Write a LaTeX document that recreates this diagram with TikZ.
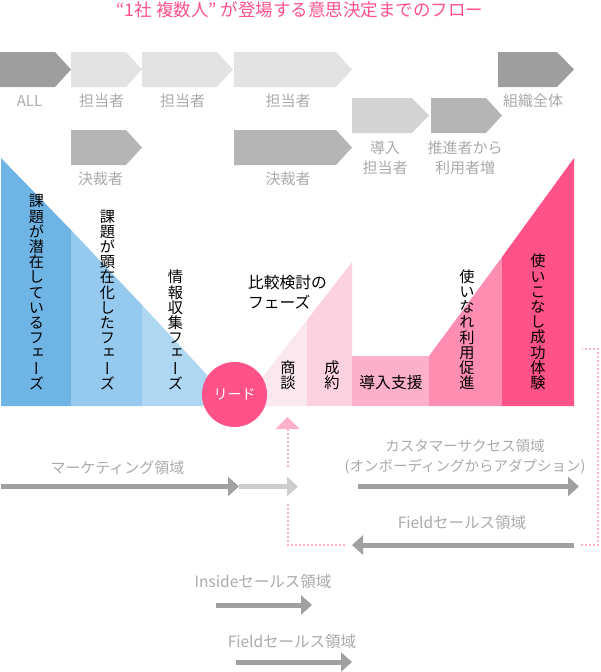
\documentclass[tikz,border=0pt]{standalone}
\usepackage{fontspec}
\setmainfont{Noto Sans CJK JP}
\newfontfamily\vertfont[RawFeature=+vert]{Noto Sans CJK JP}
\usetikzlibrary{arrows.meta, positioning, calc}
\definecolor{titlepink}{RGB}{255,82,136}
\definecolor{labelgray}{RGB}{170,170,170}
\definecolor{arrowgray}{RGB}{160,160,160}
\definecolor{arrowlight}{RGB}{205,205,205}
\definecolor{chevdark}{RGB}{158,158,158}
\definecolor{chevmid}{RGB}{181,181,181}
\definecolor{chevsoft}{RGB}{211,211,211}
\definecolor{chevpale}{RGB}{227,227,227}
\definecolor{blueone}{RGB}{110,181,230}
\definecolor{bluetwo}{RGB}{150,201,238}
\definecolor{bluethree}{RGB}{175,215,242}
\definecolor{pinkone}{RGB}{251,232,239}
\definecolor{pinktwo}{RGB}{253,210,224}
\definecolor{pinkthree}{RGB}{253,176,202}
\definecolor{pinkfour}{RGB}{254,141,178}
\definecolor{pinkfive}{RGB}{255,82,136}
\newcommand{\stackfont}{\vertfont\fontsize{15.2}{15.2}\selectfont\lineskiplimit=-100pt\relax}

\begin{document}
\begin{tikzpicture}[
        x=1pt, y=-1pt,
        graylabel/.style={text=labelgray, font=\fontsize{15}{20}\selectfont, align=center, inner sep=0pt},
        blacklabel/.style={text=black, font=\fontsize{15.8}{20}\selectfont, align=left, inner sep=0pt},
        stackedlabel/.style={text=black, font=\stackfont, align=center, anchor=south, inner sep=0pt},
        thickarrow/.style={-{Triangle[width=19pt, length=11pt]}, line width=5pt, arrowgray},
        dotline/.style={dash pattern=on 2pt off 2pt, line width=2pt, pinkthree}
    ]
        \useasboundingbox (0,0) rectangle (600,672);

        \node[text=titlepink, font=\fontsize{17.5}{20}\selectfont, inner sep=0pt] (title) at (300,10) {“1社 複数人” が登場する意思決定までのフロー};

        % top row
        \fill[chevdark] (0,52) -- (55,52) -- (71,69.5) -- (55,87) -- (0,87) -- cycle;
        \fill[chevpale] (71,52) -- (126,52) -- (142,69.5) -- (126,87) -- (71,87) -- cycle;
        \fill[chevpale] (142,52) -- (217,52) -- (233,69.5) -- (217,87) -- (142,87) -- cycle;
        \fill[chevpale] (234,52) -- (336,52) -- (352,69.5) -- (336,87) -- (234,87) -- cycle;
        \fill[chevdark] (498,52) -- (557,52) -- (574,69.5) -- (557,87) -- (498,87) -- cycle;
        \fill[chevsoft] (352,98) -- (412,98) -- (429,115.5) -- (412,133) -- (352,133) -- cycle;
        \fill[chevmid] (431,98) -- (486,98) -- (502,115.5) -- (486,133) -- (431,133) -- cycle;
        \fill[chevmid] (71,130) -- (126,130) -- (142,147.5) -- (126,165) -- (71,165) -- cycle;
        \fill[chevmid] (234,130) -- (336,130) -- (352,147.5) -- (336,165) -- (234,165) -- cycle;

        \node[graylabel] (all) at (29.5,101) {ALL};
        \node[graylabel] (staffa) at (101.5,101) {担当者};
        \node[graylabel] (staffb) at (182.5,101) {担当者};
        \node[graylabel] (staffc) at (288,101) {担当者};
        \node[graylabel] (company) at (533,101) {組織全体};
        \node[graylabel] (deciderb) at (288,179) {決裁者};
        \node[graylabel] (decidera) at (100.5,179) {決裁者};
        \node[graylabel] (intro) at (385,158) {導入\\担当者};
        \node[graylabel] (promoter) at (465,158) {推進者から\\利用者増};

        % phases
        \fill[blueone] (1,158) -- (71,230) -- (71,406) -- (1,406) -- cycle;
        \fill[bluetwo] (71,230) -- (142,305) -- (142,406) -- (71,406) -- cycle;
        \fill[bluethree] (142,305) -- (236,406) -- (142,406) -- cycle;
        \fill[pinkone] (240,406) -- (307,320) -- (307,406) -- cycle;
        \fill[pinktwo] (307,320) -- (352,262) -- (352,406) -- (307,406) -- cycle;
        \fill[pinkthree] (352,356) -- (429,356) -- (429,406) -- (352,406) -- cycle;
        \fill[pinkfour] (429,356) -- (502,257) -- (502,406) -- (429,406) -- cycle;
        \fill[pinkfive] (502,257) -- (574,158) -- (574,406) -- (502,406) -- cycle;

        \node[stackedlabel] (latent) at (36.5,390) {課\\題\\が\\潜\\在\\し\\て\\い\\る\\フ\\ェ\\ー\\ズ};
        \node[stackedlabel] (manifest) at (107.5,390) {課\\題\\が\\顕\\在\\化\\し\\た\\フ\\ェ\\ー\\ズ};
        \node[stackedlabel] (research) at (175.5,390) {情\\報\\収\\集\\フ\\ェ\\ー\\ズ};
        \node[stackedlabel] (meeting) at (288,390) {商\\談};
        \node[stackedlabel] (contract) at (332,390) {成\\約};
        \node[stackedlabel] (habit) at (467,390) {使\\い\\な\\れ\\利\\用\\促\\進};
        \node[stackedlabel] (success) at (538,390) {使\\い\\こ\\な\\し\\成\\功\\体\\験};
        \node[blacklabel] (compare) at (287.5,292) {比較検討の\\フェーズ};
        \node[blacklabel] (support) at (391,382) {導入支援};

        \node[circle, fill=pinkfive, text=white, minimum size=65pt, inner sep=0pt, font=\fontsize{14}{18}\selectfont] (lead) at (234.5,394.5) {リード};

        % areas
        \node[graylabel] (marketing) at (117.5,468) {マーケティング領域};
        \node[graylabel, font=\fontsize{14.5}{20}\selectfont] (success area) at (465,457) {カスタマーサクセス領域\\(オンボーディングからアダプション)};
        \node[graylabel, font=\fontsize{15.5}{20}\selectfont] (field upper) at (462,523) {Fieldセールス領域};
        \node[graylabel, font=\fontsize{15.5}{20}\selectfont] (inside) at (263,582) {Insideセールス領域};
        \node[graylabel, font=\fontsize{15.5}{20}\selectfont] (field lower) at (292,642) {Fieldセールス領域};

        \coordinate (mktstart) at (1,486.5);
        \coordinate (mktend) at (239,486.5);
        \coordinate (leadend) at (298,486.5);
        \coordinate (csstart) at (358,486.5);
        \coordinate (csend) at (579,486.5);
        \coordinate (fieldstart) at (574,545);
        \coordinate (fieldend) at (352,545);
        \coordinate (insidestart) at (216,605);
        \coordinate (insideend) at (312,605);
        \coordinate (lowstart) at (236,662);
        \coordinate (lowend) at (352,662);

        \draw[thickarrow, arrowlight] (mktend) -- (leadend);
        \draw[thickarrow] (mktstart) -- (mktend);
        \draw[thickarrow] (csstart) -- (csend);
        \draw[thickarrow] (fieldstart) -- (fieldend);
        \draw[thickarrow] (insidestart) -- (insideend);
        \draw[thickarrow] (lowstart) -- (lowend);

        % feedback loop
        \coordinate (looptip) at (287.5,417);
        \coordinate (loopgapa) at (287.5,467);
        \coordinate (loopgapb) at (287.5,504);
        \coordinate (loopcorner) at (287.5,545);
        \coordinate (loopleft) at (345,545);
        \coordinate (loopright) at (581,545);
        \coordinate (loopfar) at (598,545);
        \coordinate (looptop) at (598,349);
        \coordinate (loopend) at (582,349);

        \draw[dotline, -{Triangle[width=24pt, length=12pt, fill=pinkthree]}] (loopgapa) -- (looptip);
        \draw[dotline] (loopgapb) -- (loopcorner) -- (loopleft);
        \draw[dotline] (loopright) -- (loopfar) -- (looptop) -- (loopend);
    \end{tikzpicture}
\end{document}
